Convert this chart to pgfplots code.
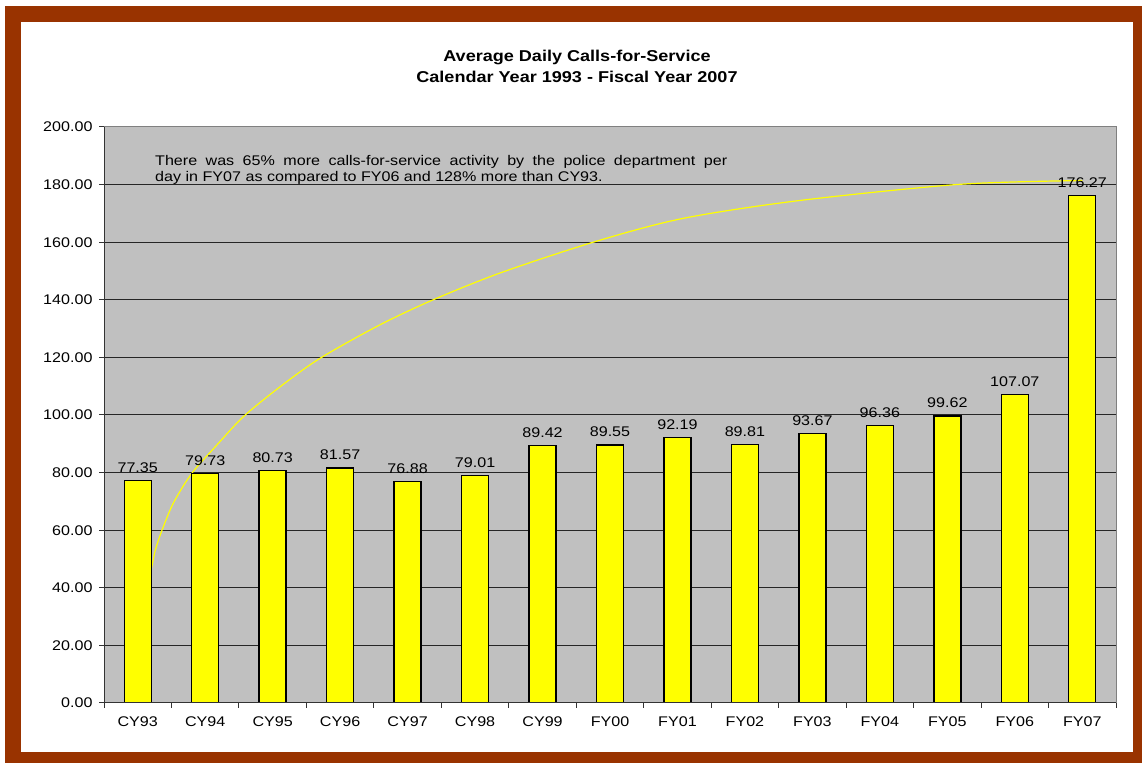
\documentclass[border=0pt]{standalone}
\usepackage{pgfplots}
\pgfplotsset{compat=1.18}
\usepackage{pgfplotstable}
\usepackage{fontspec}
\setmainfont{Liberation Sans}[FakeStretch=1.15]
\definecolor{framec}{HTML}{993300}
\definecolor{plotbg}{HTML}{C0C0C0}
\definecolor{barfill}{HTML}{FFFF00}

\pgfplotstableread{
k v
0 77.35
1 79.73
2 80.73
3 81.57
4 76.88
5 79.01
6 89.42
7 89.55
8 92.19
9 89.81
10 93.67
11 96.36
12 99.62
13 107.07
14 176.27
}\bars

\pgfplotstableread{
k v
0.19 45.0
0.26 53.0
0.36 60.0
0.53 69.5
0.80 79.7
1.17 89.5
1.57 99.5
2.11 109.8
2.69 119.5
3.54 130.7
4.33 139.5
5.37 149.3
6.78 160.2
8.09 168.3
9.82 174.5
12.19 180.1
14.00 181.4
}\trend

\begin{document}
\begin{tikzpicture}[x=1bp,y=1bp]
\fill[white] (0,0) rectangle (1142,763);
\useasboundingbox (0,0) rectangle (1142,763);
\fill[framec] (5,0) rectangle (1142,757);
\fill[white] (21,11) rectangle (1133,741);
\begin{axis}[
  at={(104bp,60bp)}, anchor=south west,
  scale only axis, width=1012bp, height=576bp,
  xmin=-0.5, xmax=14.5, ymin=0, ymax=200,
  axis background/.style={fill=plotbg},
  axis line style={draw=black!50, line width=1bp},
  ymajorgrids, grid style={black!85, line width=1bp},
  ytick={0,20,...,200},
  xtick={-0.5,0.5,...,14.5},
  x tick label as interval,
  xticklabels={CY93,CY94,CY95,CY96,CY97,CY98,CY99,FY00,FY01,FY02,FY03,FY04,FY05,FY06,FY07},
  tick align=outside, tick pos=left,
  major tick length=5bp,
  tick style={black!80, line width=1bp},
  scaled y ticks=false,
  yticklabel style={/pgf/number format/fixed, /pgf/number format/fixed zerofill,
     /pgf/number format/precision=2, /pgf/number format/assume math mode=true, xshift=-3bp},
  xticklabel style={yshift=-5bp},
  ticklabel style={font=\fontsize{14bp}{16bp}\selectfont},
]
\addplot[color=barfill, line width=1.2bp, smooth, no markers] table[x=k,y=v]{\trend};
\addplot[ybar, bar width=27bp, fill=barfill, draw=black, line width=1.4bp,
  point meta=y,
  nodes near coords={\pgfmathprintnumber[fixed,fixed zerofill,precision=2,assume math mode=true]{\pgfplotspointmeta}},
  nodes near coords style={font=\fontsize{14bp}{16bp}\selectfont, text=black, yshift=4bp}]
  table[x=k,y=v]{\bars};
\draw[black!80, line width=1bp] (rel axis cs:0,1) -- (rel axis cs:0,0) -- (rel axis cs:1,0);
\end{axis}
\node[anchor=base, inner sep=0, font=\fontsize{15.7bp}{18bp}\selectfont\bfseries] at (577,701) {Average Daily Calls-for-Service};
\node[anchor=base, inner sep=0, font=\fontsize{15.7bp}{18bp}\selectfont\bfseries] at (577,680) {Calendar Year 1993 - Fiscal Year 2007};
\node[anchor=base west, inner sep=0, font=\fontsize{14bp}{16bp}\selectfont] at (155,597.5) {\makebox[572bp][s]{There was 65\% more calls-for-service activity by the police department per}};
\node[anchor=base west, inner sep=0, font=\fontsize{14bp}{16bp}\selectfont] at (155,581.3) {day in FY07 as compared to FY06 and 128\% more than CY93.};
\end{tikzpicture}
\end{document}
